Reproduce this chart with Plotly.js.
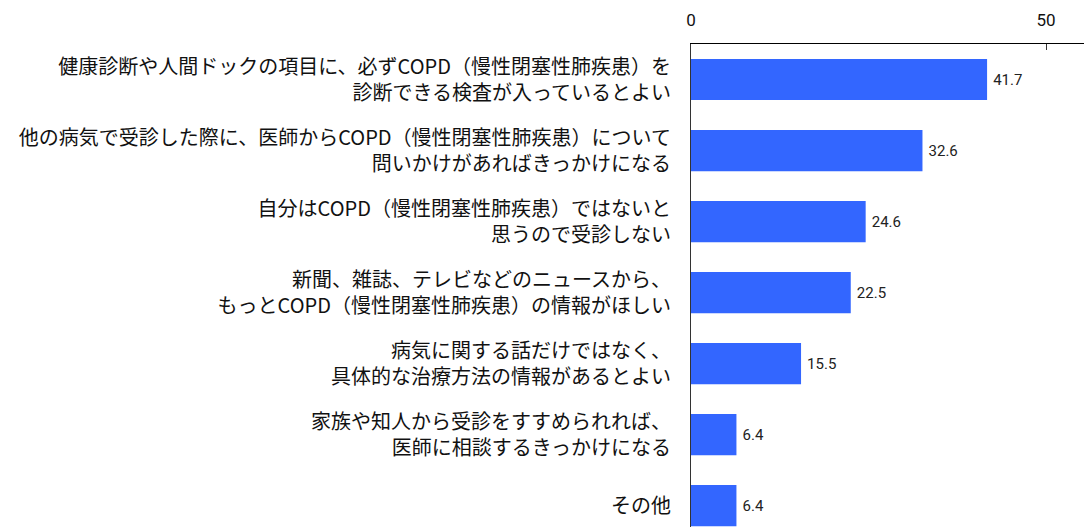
<!DOCTYPE html>
<html><head><meta charset="utf-8">
<script src="https://cdn.plot.ly/plotly-3.0.1.min.js"></script>
<style>html,body{margin:0;padding:0;background:#fff}#chart{width:1084px;height:527px}</style>
</head><body><div id="chart"></div>
<script>
const categories = [
  "健康診断や人間ドックの項目に、必ずCOPD（慢性閉塞性肺疾患）を<br>診断できる検査が入っているとよい",
  "他の病気で受診した際に、医師からCOPD（慢性閉塞性肺疾患）について<br>問いかけがあればきっかけになる",
  "自分はCOPD（慢性閉塞性肺疾患）ではないと<br>思うので受診しない",
  "新聞、雑誌、テレビなどのニュースから、<br>もっとCOPD（慢性閉塞性肺疾患）の情報がほしい",
  "病気に関する話だけではなく、<br>具体的な治療方法の情報があるとよい",
  "家族や知人から受診をすすめられれば、<br>医師に相談するきっかけになる",
  "その他"
];
const values = [41.7, 32.6, 24.6, 22.5, 15.5, 6.4, 6.4];
const tickVals = [0, 50];
const tickText = ["0", "50"];

const font = "'Noto Sans CJK JP', 'Noto Sans', sans-serif";
Plotly.newPlot('chart', [{
  type: 'bar', orientation: 'h',
  x: values, y: categories,
  marker: {color: '#3366FF'},
  text: values.map(v => '\u2009' + v.toFixed(1)),
  textposition: 'outside',
  textfont: {family: 'Roboto, sans-serif', size: 15, color: '#222'},
  cliponaxis: false,
  hoverinfo: 'none'
}], {
  width: 1084, height: 527,
  margin: {l: 691, r: 0, t: 44, b: 0, pad: 0},
  paper_bgcolor: '#fff', plot_bgcolor: '#fff',
  bargap: 0.42,
  showlegend: false,
  xaxis: {
    side: 'top', range: [0, 55.35],
    tickvals: tickVals, ticktext: tickText,
    ticks: 'inside', ticklen: 6, tickcolor: '#333',
    showgrid: false, zeroline: false,
    showline: true, linecolor: '#000', linewidth: 1,
    tickfont: {family: 'Roboto, sans-serif', size: 17, color: '#111'},
    ticklabelstandoff: 10
  },
  yaxis: {
    type: 'category', range: [6.3, -0.5],
    showline: true, linecolor: '#333', linewidth: 1,
    showgrid: false, zeroline: false, ticks: '',
    ticklabelstandoff: 15,
    tickfont: {family: font, size: 20, color: '#111'}
  }
}, {displayModeBar: false, staticPlot: true});
</script></body></html>
